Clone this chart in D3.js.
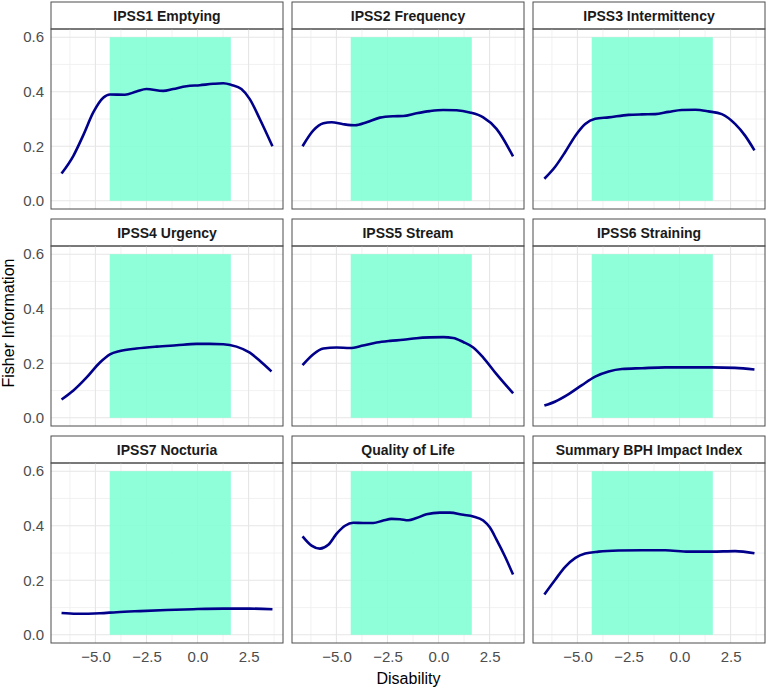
<!DOCTYPE html>
<html><head><meta charset="utf-8">
<script src="https://cdn.jsdelivr.net/npm/d3@7"></script>
<style>
body{margin:0;background:#fff;}
svg{display:block;}
text{font-family:"Liberation Sans",Arial,Helvetica,sans-serif;}
</style></head>
<body><svg id="chart" width="768" height="689"></svg>
<script>
const titles = ["IPSS1 Emptying","IPSS2 Frequency","IPSS3 Intermittency","IPSS4 Urgency","IPSS5 Stream","IPSS6 Straining","IPSS7 Nocturia","Quality of Life","Summary BPH Impact Index"];
const xTicks = [-5.0,-2.5,0.0,2.5];
const yTicks = [0.0,0.2,0.4,0.6];
const band = [-4.3, 1.63];
const bandTop = 0.6;

const ipss1 = [[-6.66,0.10],[-6.08,0.165],[-5.6,0.24],[-5.1,0.325],[-4.62,0.378],[-4.29,0.39],[-3.56,0.389],[-2.99,0.401],[-2.5,0.41],[-1.68,0.403],[-1.19,0.41],[-0.54,0.42],[0.11,0.424],[0.77,0.429],[1.26,0.431],[1.66,0.425],[2.15,0.41],[2.56,0.373],[3.05,0.30],[3.67,0.20]];
const ipss2 = [[-6.66,0.20],[-6.13,0.258],[-5.64,0.284],[-5.24,0.288],[-4.67,0.281],[-4.09,0.277],[-3.52,0.288],[-2.87,0.305],[-2.22,0.31],[-1.73,0.311],[-1.08,0.321],[-0.42,0.329],[0.23,0.333],[0.88,0.332],[1.53,0.324],[2.19,0.306],[2.84,0.264],[3.65,0.163]];
const ipss3 = [[-6.62,0.081],[-6.08,0.126],[-5.6,0.179],[-5.1,0.239],[-4.62,0.282],[-4.13,0.301],[-3.47,0.306],[-2.5,0.315],[-1.84,0.317],[-1.19,0.318],[-0.54,0.326],[0.11,0.333],[0.77,0.334],[1.42,0.328],[2.07,0.318],[2.72,0.282],[3.21,0.239],[3.67,0.185]];
const ipss4 = [[-6.66,0.067],[-6.08,0.10],[-5.43,0.148],[-4.78,0.203],[-4.29,0.233],[-3.8,0.245],[-2.99,0.254],[-2.0,0.261],[-1.03,0.266],[-0.05,0.271],[0.6,0.271],[1.26,0.27],[1.91,0.261],[2.56,0.239],[3.05,0.209],[3.62,0.17]];
const ipss5 = [[-6.66,0.193],[-6.13,0.233],[-5.64,0.254],[-4.99,0.258],[-4.34,0.256],[-3.69,0.265],[-3.03,0.276],[-2.38,0.282],[-1.73,0.286],[-1.08,0.292],[-0.42,0.295],[0.23,0.296],[0.72,0.293],[1.21,0.278],[1.7,0.258],[2.19,0.221],[2.84,0.16],[3.65,0.09]];
const ipss6 = [[-6.62,0.045],[-6.08,0.06],[-5.43,0.087],[-4.78,0.12],[-4.13,0.151],[-3.47,0.17],[-2.82,0.179],[-1.84,0.182],[-0.7,0.185],[0.44,0.185],[1.58,0.185],[2.72,0.183],[3.67,0.177]];
const ipss7 = [[-6.66,0.08],[-5.92,0.077],[-4.78,0.079],[-3.96,0.083],[-2.82,0.087],[-1.52,0.091],[-0.21,0.094],[1.26,0.096],[2.56,0.096],[3.67,0.094]];
const qol = [[-6.66,0.361],[-6.22,0.327],[-5.81,0.316],[-5.4,0.33],[-4.99,0.371],[-4.58,0.40],[-4.18,0.411],[-3.69,0.41],[-3.2,0.41],[-2.71,0.419],[-2.3,0.425],[-1.89,0.424],[-1.48,0.42],[-1.08,0.428],[-0.59,0.442],[0.07,0.448],[0.55,0.448],[1.21,0.44],[1.7,0.434],[2.19,0.419],[2.51,0.394],[2.84,0.349],[3.25,0.288],[3.65,0.221]];
const bph = [[-6.62,0.148],[-6.08,0.203],[-5.6,0.249],[-5.1,0.282],[-4.62,0.298],[-3.96,0.305],[-2.99,0.309],[-1.84,0.31],[-0.7,0.31],[0.44,0.305],[1.58,0.305],[2.72,0.307],[3.67,0.299]];
const series = [ipss1,ipss2,ipss3,ipss4,ipss5,ipss6,ipss7,qol,bph];

const svg = d3.select("#chart");
const colX = [51,292,533], panelW = 232;
const rowStrip = [2,219,436], stripH = 27, panelH = 180;

const xDom = [-6.66, 3.67], xExp = (xDom[1]-xDom[0])*0.05;
const yDom = [0, 0.6], yExp = 0.03;

const textCol = "#4D4D4D";

series.forEach((data,i)=>{
  const c = i%3, r = Math.floor(i/3);
  const x0 = colX[c], sy = rowStrip[r], py = sy+stripH;
  const x = d3.scaleLinear().domain([xDom[0]-xExp, xDom[1]+xExp]).range([x0, x0+panelW]);
  const y = d3.scaleLinear().domain([yDom[0]-yExp, yDom[1]+yExp]).range([py+panelH, py]);
  const g = svg.append("g");
  g.append("rect").attr("x",x0).attr("y",sy).attr("width",panelW).attr("height",stripH)
    .attr("fill","#fff").attr("stroke","#4D4D4D").attr("stroke-width",1);
  g.append("text").attr("x",x0+panelW/2).attr("y",sy+stripH/2+5).attr("text-anchor","middle")
    .attr("font-weight","bold").attr("font-size",14).attr("fill","#1A1A1A").text(titles[i]);
  const xMinor = [-6.25,-3.75,-1.25,1.25,3.75];
  const yMinor = [0.1,0.3,0.5];
  xMinor.forEach(v=>g.append("line").attr("x1",x(v)).attr("x2",x(v)).attr("y1",py).attr("y2",py+panelH).attr("stroke","#EFEFEF").attr("stroke-width",0.8));
  yMinor.forEach(v=>g.append("line").attr("y1",y(v)).attr("y2",y(v)).attr("x1",x0).attr("x2",x0+panelW).attr("stroke","#EFEFEF").attr("stroke-width",0.8));
  xTicks.forEach(v=>g.append("line").attr("x1",x(v)).attr("x2",x(v)).attr("y1",py).attr("y2",py+panelH).attr("stroke","#E6E6E6").attr("stroke-width",1.1));
  yTicks.forEach(v=>g.append("line").attr("y1",y(v)).attr("y2",y(v)).attr("x1",x0).attr("x2",x0+panelW).attr("stroke","#E6E6E6").attr("stroke-width",1.1));
  g.append("rect").attr("x",x(band[0])).attr("width",x(band[1])-x(band[0]))
    .attr("y",y(bandTop)).attr("height",y(0)-y(bandTop)).attr("fill","#7FFFD4").attr("opacity",0.88);
  const line = d3.line().x(d=>x(d[0])).y(d=>y(d[1])).curve(d3.curveMonotoneX);
  g.append("path").datum(data).attr("d",line).attr("fill","none").attr("stroke","#00008B").attr("stroke-width",2.6).attr("stroke-linejoin","round");
  g.append("rect").attr("x",x0).attr("y",py).attr("width",panelW).attr("height",panelH)
    .attr("fill","none").attr("stroke","#4D4D4D").attr("stroke-width",1);
  if(c===0){
    const ax = g.append("g").attr("transform",`translate(${x0},0)`).call(d3.axisLeft(y).tickValues(yTicks).tickFormat(d3.format(".1f")).tickSize(0).tickPadding(7));
    ax.select(".domain").remove();
    ax.selectAll("text").attr("font-size",15).attr("fill",textCol).attr("font-family","Liberation Sans, Arial, sans-serif");
  }
  if(r===2){
    const ax = g.append("g").attr("transform",`translate(0,${py+panelH})`).call(d3.axisBottom(x).tickValues(xTicks).tickFormat(d3.format(".1f")).tickSize(0).tickPadding(8));
    ax.select(".domain").remove();
    ax.selectAll("text").attr("font-size",15).attr("fill",textCol).attr("font-family","Liberation Sans, Arial, sans-serif");
  }
});

svg.append("text").attr("x",(51+766)/2).attr("y",684).attr("text-anchor","middle").attr("font-size",16).attr("fill","#000").text("Disability");
svg.append("text").attr("transform","translate(14,323) rotate(-90)").attr("text-anchor","middle").attr("font-size",16).attr("fill","#000").text("Fisher Information");
</script></body></html>
